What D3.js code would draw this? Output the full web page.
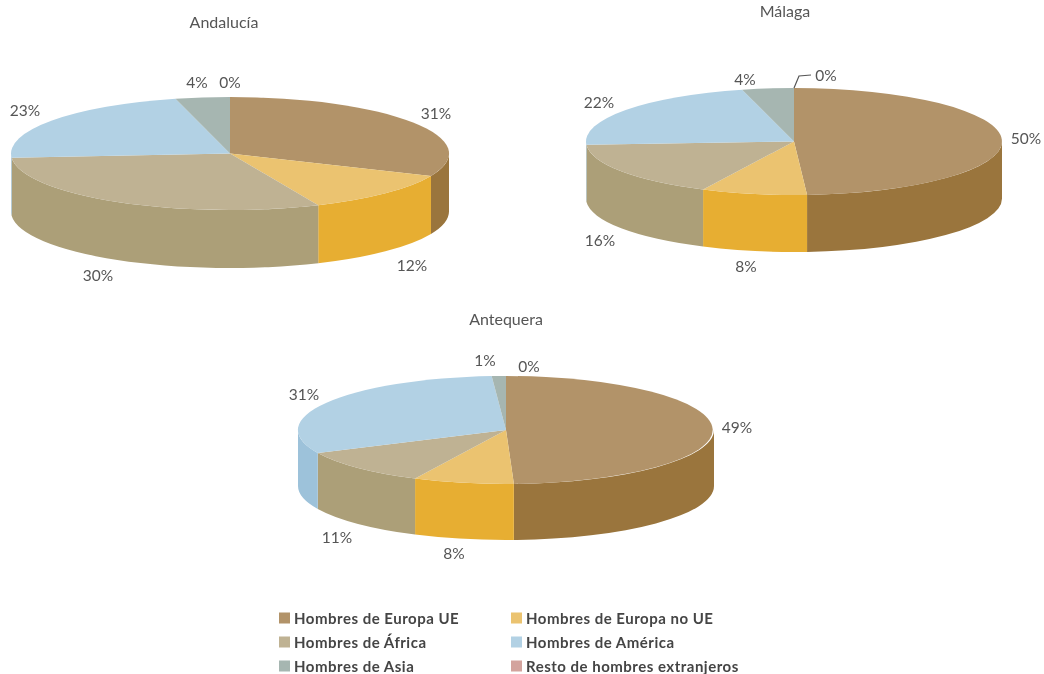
<!DOCTYPE html>
<html lang="es"><head><meta charset="utf-8">
<script src="https://cdn.jsdelivr.net/npm/d3@7/dist/d3.min.js"></script>
<style>html,body{margin:0;background:#fff}svg{display:block}text{font-family:Lato,sans-serif}</style>
</head><body><svg id="c" width="1044" height="674"></svg>
<script>
// Data
const categories = ["Hombres de Europa UE","Hombres de Europa no UE","Hombres de África","Hombres de América","Hombres de Asia","Resto de hombres extranjeros"];
// slice sizes; the printed labels are kept separately
const andalucia = [31.5,11.9,30.4,22.2,4,0];
const malaga    = [49,8.2,16.8,22,4,0];
const antequera = [49.4,7.8,10.8,30.9,1.1,0];
const andaluciaLabels = ["31%","12%","30%","23%","4%","0%"];
const malagaLabels    = ["50%","8%","16%","22%","4%","0%"];
const antequeraLabels = ["49%","8%","11%","31%","1%","0%"];
// Styles
const topColors  = ["#b29369","#ebc36f","#bfb293","#b2d1e4","#a6b6b1","#d3a39d"];
const sideColors = ["#9a753c","#e7ae33","#ac9f78","#9dc2da","#93a5a0","#b98a84"];
// Layout
const charts = [
 {title:"Andalucía",titleX:224,titleY:21,values:andalucia,labels:andaluciaLabels,cx:230,cy:153.5,rx:219,ry:56.5,depth:58,
  labelPos:[[436,113],[412,265],[98,275],[25,110],[197,82],[230,82]]},
 {title:"Málaga",titleX:785,titleY:10,values:malaga,labels:malagaLabels,cx:794,cy:141.5,rx:208,ry:53.5,depth:57,leader:true,
  labelPos:[[1026,138],[746,266],[600,240],[599,102],[745,79],[826,75]]},
 {title:"Antequera",titleX:506,titleY:318,values:antequera,labels:antequeraLabels,cx:506,cy:430,rx:208,ry:54,depth:56,
  labelPos:[[737,427],[454,553],[337,537],[304,394],[485,360],[529,366]]}
];
const svg = d3.select("#c");
const defs = svg.append("defs");
defs.append("filter").attr("id","soft").append("feGaussianBlur").attr("stdDeviation",0.5);
const root = svg.append("g").attr("filter","url(#soft)");
const pie = d3.pie().sort(null).value(d=>d);
const unitArc = d3.arc().innerRadius(0).outerRadius(1);

charts.forEach(ch=>{
  const g = root.append("g");
  const arcs = pie(ch.values);
  const ex = a=>ch.cx+ch.rx*Math.sin(a), ey = a=>ch.cy-ch.ry*Math.cos(a);
  // side walls: only the front half (90°–270°) is visible
  const lo=Math.PI/2, hi=3*Math.PI/2;
  g.selectAll("path.side").data(arcs.filter(d=>d.endAngle>lo&&d.startAngle<hi&&d.value>0)).join("path")
    .attr("class","side").attr("fill",d=>sideColors[d.index])
    .attr("d",d=>{
      const a0=Math.max(d.startAngle,lo),a1=Math.min(d.endAngle,hi);
      return `M${ex(a0)},${ey(a0)}A${ch.rx},${ch.ry} 0 0 1 ${ex(a1)},${ey(a1)}`+
             `L${ex(a1)},${ey(a1)+ch.depth}A${ch.rx},${ch.ry} 0 0 0 ${ex(a0)},${ey(a0)+ch.depth}Z`;
    });
  // top face
  g.append("g").attr("transform",`translate(${ch.cx},${ch.cy}) scale(${ch.rx},${ch.ry})`)
    .selectAll("path").data(arcs.filter(d=>d.value>0)).join("path")
    .attr("fill",d=>topColors[d.index]).attr("d",unitArc);
  // labels
  g.selectAll("text.lab").data(ch.labels).join("text").attr("class","lab")
    .attr("x",(d,i)=>ch.labelPos[i][0]).attr("y",(d,i)=>ch.labelPos[i][1])
    .attr("text-anchor","middle").attr("dominant-baseline","central")
    .attr("font-size",15.5).attr("fill","#555").text(d=>d);
  g.append("text").attr("x",ch.titleX).attr("y",ch.titleY).attr("text-anchor","middle")
    .attr("dominant-baseline","central").attr("font-size",16).attr("fill","#555").text(ch.title);
  if(ch.leader){
    g.append("path").attr("fill","none").attr("stroke","#555").attr("stroke-width",1.2)
     .attr("d",`M${ch.cx},${ch.cy-ch.ry}L${ch.cx+5},${ch.cy-ch.ry-12}L${ch.cx+17},${ch.cy-ch.ry-13}`);
  }
});
// legend
const legX = d3.scalePoint().domain([0,1]).range([279,511]);
const legY = d3.scalePoint().domain([0,1,2]).range([618,666]);
const leg = root.append("g").selectAll("g").data(categories).join("g")
  .attr("transform",(d,i)=>`translate(${legX(i%2)},${legY(Math.floor(i/2))})`);
leg.append("rect").attr("x",0).attr("y",-5.5).attr("width",11).attr("height",11).attr("fill",(d,i)=>topColors[i]);
leg.append("text").attr("x",15).attr("dominant-baseline","central").attr("font-size",15).attr("font-weight",700).attr("letter-spacing",0.5).attr("fill","#444").text(d=>d);
</script></body></html>
